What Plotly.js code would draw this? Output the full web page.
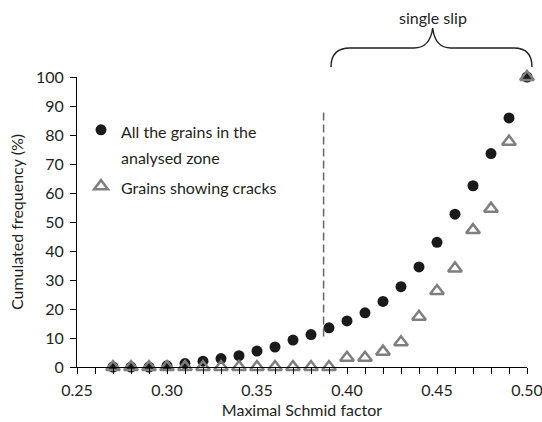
<!DOCTYPE html>
<html>
<head>
<meta charset="utf-8">
<script src="https://cdn.plot.ly/plotly-3.0.1.min.js"></script>
<style>html,body{margin:0;padding:0;background:#fff;}#chart{width:542px;height:422px;}</style>
</head>
<body>
<div id="chart"></div>
<script>
// ---- data ----
const schmidFactor = [0.27,0.28,0.29,0.30,0.31,0.32,0.33,0.34,0.35,0.36,0.37,0.38,0.39,0.40,0.41,0.42,0.43,0.44,0.45,0.46,0.47,0.48,0.49,0.50];
const allGrains   = [0,0,0,0.4,1.2,2.0,2.9,3.9,5.5,6.9,9.3,11.2,13.5,15.9,18.7,22.6,27.7,34.5,43.0,52.7,62.5,73.6,85.9,100];
const cracked     = [0,0,0,0,0,0,0,0,0,0,0,0,0,3.2,3.2,5.3,8.5,17.3,26.2,34.0,47.2,54.6,77.7,100];
const seriesNames = ['All the grains in the<br>analysed zone', 'Grains showing cracks'];
const xTickVals = [0.25, 0.30, 0.35, 0.40, 0.45, 0.50];
const xTickText = ['0.25', '0.30', '0.35', '0.40', '0.45', '0.50'];
const xTitle = 'Maximal Schmid factor';
const yTitle = 'Cumulated frequency (%)';
const braceLabel = 'single slip';
const dividerX = 0.387;
const dividerY = [10.5, 88.5];

// ---- layout helpers ----
const W = 542, H = 422;
const M = {l: 77, r: 15, t: 77, b: 55};
const PW = W - M.l - M.r, PH = H - M.t - M.b;
const px = x => (x - M.l) / PW;           // pixel -> paper x
const py = y => (H - M.b - y) / PH;       // pixel -> paper y
const FONT = 'Lato, "Open Sans", sans-serif';
const TXT = '#231f20';
const FS = 16;

function bracePath() {
  const pts = [
    ['M', 331, 67], ['Q', 331, 48, 350, 48], ['L', 414, 48],
    ['Q', 430, 48, 432.7, 28], ['Q', 435, 48, 451, 48], ['L', 514, 48],
    ['Q', 532, 48, 532, 67]
  ];
  return pts.map(p => {
    let s = p[0];
    for (let i = 1; i < p.length; i += 2) s += ' ' + px(p[i]).toFixed(4) + ',' + py(p[i+1]).toFixed(4);
    return s;
  }).join(' ');
}

const legendSpan = t => '<span style="font-size:' + FS + 'px">' + t.split('<br>').join('</span><br><span style="font-size:' + FS + 'px">') + '</span>';

const traces = [
  {
    x: schmidFactor, y: allGrains, name: legendSpan(seriesNames[0]),
    type: 'scatter', mode: 'markers', cliponaxis: false,
    marker: {symbol: 'circle', size: 11, color: '#1a1a1a'}
  },
  {
    x: schmidFactor, y: cracked, name: legendSpan(seriesNames[1]),
    type: 'scatter', mode: 'markers', cliponaxis: false,
    marker: {symbol: 'triangle-up-open', size: 12, color: '#7f7f7f', line: {width: 2.5, color: '#7f7f7f'}}
  }
];

const layout = {
  width: W, height: H,
  margin: M,
  paper_bgcolor: '#fff', plot_bgcolor: '#fff',
  font: {family: FONT, size: FS, color: TXT},
  showlegend: true,
  legend: {
    x: px(81), y: py(110), xanchor: 'left', yanchor: 'top',
    bgcolor: 'rgba(0,0,0,0)', borderwidth: 0,
    font: {family: FONT, size: 20.5, color: TXT},
    valign: 'top', tracegroupgap: 0
  },
  xaxis: {
    range: [0.25, 0.50], tickmode: 'array', tickvals: xTickVals, ticktext: xTickText,
    showline: true, linecolor: '#000', linewidth: 1,
    ticks: 'outside', ticklen: 6, tickcolor: '#000', tickwidth: 1,
    minor: {dtick: 0.01, tick0: 0.25, ticks: 'outside', ticklen: 6, tickcolor: '#000', tickwidth: 1, showgrid: false},
    showgrid: false, zeroline: false,
    ticklabeloverflow: 'allow', ticklabelstandoff: 3,
    tickfont: {family: FONT, size: FS, color: TXT},
    title: {text: xTitle, font: {family: FONT, size: FS, color: TXT}, standoff: 6}
  },
  yaxis: {
    range: [0, 100], dtick: 10,
    showline: true, linecolor: '#000', linewidth: 1,
    ticks: 'outside', ticklen: 6, tickcolor: '#000', tickwidth: 1,
    showgrid: false, zeroline: false,
    ticklabelstandoff: 3,
    tickfont: {family: FONT, size: FS, color: TXT},
    title: {text: yTitle, font: {family: FONT, size: FS, color: TXT}, standoff: 8}
  },
  shapes: [
    {type: 'line', xref: 'x', yref: 'y', x0: dividerX, x1: dividerX, y0: dividerY[0], y1: dividerY[1],
     line: {color: '#666', width: 1.5, dash: '8px,4px'}},
    {type: 'path', xref: 'paper', yref: 'paper', path: bracePath(), line: {color: '#231f20', width: 1.4}}
  ],
  annotations: [
    {text: braceLabel, xref: 'paper', yref: 'paper', x: px(432.5), y: py(17), xanchor: 'center', yanchor: 'middle',
     showarrow: false, font: {family: FONT, size: FS, color: TXT}}
  ]
};

Plotly.newPlot('chart', traces, layout, {displayModeBar: false, staticPlot: true});
</script>
</body>
</html>
